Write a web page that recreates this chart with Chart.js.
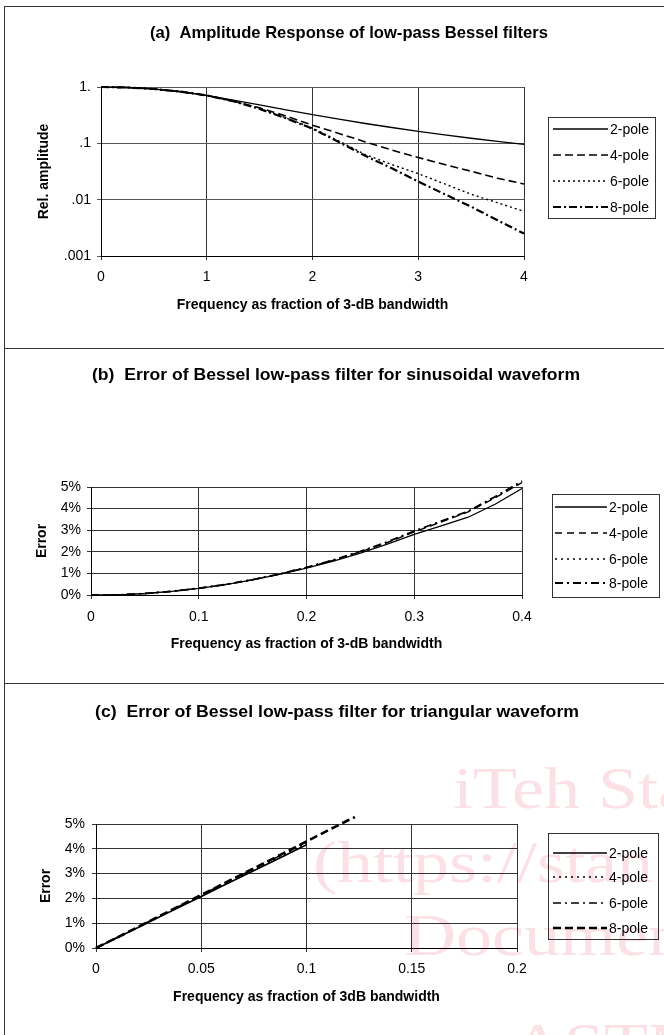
<!DOCTYPE html>
<html>
<head>
<meta charset="utf-8">
<script src="https://cdn.jsdelivr.net/npm/chart.js@4.4.1/dist/chart.umd.min.js"></script>
<style>
  body { margin: 0; background: #fff; }
  #page { position: relative; width: 664px; height: 1035px; overflow: hidden; background: #fff; }
  canvas { position: absolute; left: 0; }
  .rule { position: absolute; background: #333; }
</style>
</head>
<body>
<div id="page">
  <div class="rule" style="left:4px;top:6px;width:660px;height:1px"></div>
  <div class="rule" style="left:4px;top:6px;width:1px;height:1029px"></div>
  <div class="rule" style="left:4px;top:348px;width:660px;height:1px"></div>
  <div class="rule" style="left:4px;top:683px;width:660px;height:1px"></div>
  <canvas id="chartA" width="664" height="348" style="top:0"></canvas>
  <canvas id="chartB" width="664" height="335" style="top:348px"></canvas>
  <canvas id="chartC" width="664" height="352" style="top:683px"></canvas>
</div>
<script>
// (a) amplitude response
const freqA = [0, 0.25, 0.5, 0.75, 1, 1.25, 1.5, 1.75, 2, 2.25, 2.5, 2.75, 3, 3.25, 3.5, 3.75, 4];
const ampA2 = [1, 0.980, 0.921, 0.825, 0.707, 0.587, 0.481, 0.393, 0.323, 0.268, 0.225, 0.191, 0.163, 0.141, 0.123, 0.108, 0.096];
const ampA4 = [1, 0.980, 0.922, 0.829, 0.707, 0.566, 0.426, 0.305, 0.210, 0.150, 0.106, 0.076, 0.056, 0.042, 0.032, 0.024, 0.019];
const ampA6 = [1, 0.980, 0.921, 0.828, 0.707, 0.562, 0.413, 0.283, 0.186, 0.110, 0.063, 0.042, 0.029, 0.019, 0.0125, 0.0088, 0.0062];
const ampA8 = [1, 0.980, 0.921, 0.828, 0.707, 0.560, 0.408, 0.278, 0.182, 0.105, 0.060, 0.036, 0.021, 0.0125, 0.0075, 0.0043, 0.0025];
const yTicksA = [0.001, 0.01, 0.1, 1];
const yLabelsA = ['.001', '.01', '.1', '1.'];
const xLabelsA = ['0', '1', '2', '3', '4'];

// (b) sinusoidal error, %
const freqB = [0, 0.025, 0.05, 0.075, 0.1, 0.125, 0.15, 0.175, 0.2, 0.225, 0.25, 0.275, 0.3, 0.325, 0.35, 0.375, 0.4];
const errB2 = [0, 0, 0.07, 0.17, 0.31, 0.48, 0.70, 0.95, 1.24, 1.57, 1.94, 2.36, 2.81, 3.20, 3.60, 4.20, 4.93];
const errB4 = [0, 0, 0.07, 0.17, 0.31, 0.49, 0.71, 0.97, 1.27, 1.61, 2.00, 2.43, 2.92, 3.38, 3.85, 4.50, 5.20];
const errB6 = [0, 0, 0.07, 0.17, 0.31, 0.49, 0.71, 0.97, 1.27, 1.62, 2.01, 2.44, 2.93, 3.40, 3.87, 4.52, 5.22];
const errB8 = [0, 0, 0.07, 0.17, 0.31, 0.49, 0.71, 0.97, 1.28, 1.62, 2.02, 2.46, 2.96, 3.42, 3.88, 4.55, 5.28];
const xLabelsB = ['0', '0.1', '0.2', '0.3', '0.4'];

// (c) triangular error, %
const freqC = [0, 0.01, 0.02, 0.03, 0.04, 0.05, 0.06, 0.07, 0.08, 0.09, 0.1];
const freqC8 = [0, 0.01, 0.02, 0.03, 0.04, 0.05, 0.06, 0.07, 0.08, 0.09, 0.1, 0.11, 0.12, 0.123];
const errC2 = [0, 0.41, 0.83, 1.25, 1.66, 2.08, 2.50, 2.91, 3.33, 3.74, 4.16];
const errC4 = [0, 0.42, 0.84, 1.27, 1.69, 2.11, 2.54, 2.96, 3.38, 3.80, 4.22];
const errC6 = [0, 0.42, 0.85, 1.28, 1.70, 2.13, 2.56, 2.98, 3.41, 3.83, 4.26];
const errC8 = [0, 0.42, 0.85, 1.28, 1.71, 2.14, 2.57, 3.00, 3.43, 3.86, 4.30, 4.73, 5.16, 5.28];
const xLabelsC = ['0', '0.05', '0.1', '0.15', '0.2'];

const yLabelsPct = ['0%', '1%', '2%', '3%', '4%', '5%'];
const seriesNames = ['2-pole', '4-pole', '6-pole', '8-pole'];

const FONT = "'Liberation Sans', Arial, sans-serif";

function pts(xs, ys) {
  return ys.map((y, i) => ({ x: xs[i], y: y }));
}

function line(label, xs, ys, width, dash) {
  return {
    label: label,
    data: pts(xs, ys),
    borderColor: '#000',
    borderWidth: width,
    borderDash: dash,
    pointRadius: 0,
    tension: 0,
    fill: false,
    clip: false
  };
}

// titles, boxed legend and watermark drawn on the canvas
const panelText = {
  id: 'panelText',
  beforeDraw(chart, args, opts) {
    if (!opts.watermark) return;
    const ctx = chart.ctx;
    ctx.save();
    ctx.fillStyle = '#fbe1e5';
    ctx.font = "60px 'Liberation Serif', serif";
    ctx.textBaseline = 'alphabetic';
    opts.watermark.forEach(w => {
      ctx.save();
      ctx.translate(w.x, w.y);
      ctx.scale(1.2, 1);
      ctx.fillText(w.text, 0, 0);
      ctx.restore();
    });
    ctx.restore();
  },
  afterDraw(chart, args, opts) {
    const ctx = chart.ctx;
    const t = opts.title;
    ctx.save();
    ctx.fillStyle = '#000';
    ctx.font = 'bold 17px ' + FONT;
    const w = ctx.measureText(t.text).width;
    ctx.translate(t.x, t.y);
    ctx.scale(t.width / w, 1);
    ctx.textAlign = 'center';
    ctx.textBaseline = 'middle';
    ctx.fillText(t.text, 0, 0);
    ctx.restore();

    const L = opts.legend;
    ctx.save();
    ctx.strokeStyle = '#333';
    ctx.lineWidth = 1;
    ctx.strokeRect(L.x + 0.5, L.y + 0.5, L.w, L.h);
    ctx.font = '14px ' + FONT;
    ctx.textBaseline = 'middle';
    ctx.fillStyle = '#000';
    chart.data.datasets.forEach((ds, i) => {
      const y = L.rows[i];
      ctx.beginPath();
      ctx.setLineDash(ds.borderDash || []);
      ctx.lineWidth = ds.borderWidth;
      ctx.strokeStyle = '#000';
      ctx.moveTo(L.lineX1, y);
      ctx.lineTo(L.lineX2, y);
      ctx.stroke();
      ctx.setLineDash([]);
      ctx.fillText(ds.label, L.textX, y + 1);
    });
    ctx.restore();
  }
};

function axisFont(size, bold) {
  return { family: FONT, size: size, weight: bold ? 'bold' : 'normal' };
}

// chart A
new Chart(document.getElementById('chartA'), {
  type: 'line',
  data: {
    datasets: [
      line(seriesNames[0], freqA, ampA2, 1.3, []),
      line(seriesNames[1], freqA, ampA4, 1.6, [8, 4]),
      line(seriesNames[2], freqA, ampA6, 1.4, [2, 3]),
      line(seriesNames[3], freqA, ampA8, 2.2, [8, 3, 2, 3])
    ]
  },
  options: {
    responsive: false,
    animation: false,
    events: [],
    layout: { padding: { top: 87, right: 140, left: 0, bottom: 0 } },
    plugins: {
      legend: { display: false },
      tooltip: { enabled: false },
      panelText: {
        title: { text: '(a)  Amplitude Response of low-pass Bessel filters', x: 349, y: 33, width: 398 },
        legend: { x: 548, y: 117, w: 107, h: 101, rows: [129, 155, 181, 207], lineX1: 553, lineX2: 608, textX: 610 }
      }
    },
    scales: {
      x: {
        type: 'linear', min: 0, max: 4,
        afterFit: s => { s.height = 92; },
        ticks: { stepSize: 1, padding: 9, color: '#000', font: axisFont(14), maxRotation: 0,
          callback: (v, i) => xLabelsA[i] },
        grid: { color: '#333', tickLength: 4 },
        border: { color: '#000' },
        title: { display: true, text: 'Frequency as fraction of 3-dB bandwidth', color: '#000',
          font: axisFont(14, true), padding: { top: 0, bottom: 34.6 } }
      },
      y: {
        type: 'logarithmic', min: 0.001, max: 1,
        afterFit: s => { s.width = 101; },
        afterBuildTicks: s => { s.ticks = yTicksA.map(v => ({ value: v })); },
        ticks: { padding: 6, color: '#000', font: axisFont(14),
          callback: v => yLabelsA[yTicksA.indexOf(v)] },
        grid: { color: '#555', tickLength: 4 },
        border: { color: '#000' },
        title: { display: true, text: 'Rel. amplitude', color: '#000',
          font: axisFont(14, true), padding: { top: 36, bottom: 0 } }
      }
    }
  },
  plugins: [panelText]
});

// chart B
new Chart(document.getElementById('chartB'), {
  type: 'line',
  data: {
    datasets: [
      line(seriesNames[0], freqB, errB2, 1.3, []),
      line(seriesNames[1], freqB, errB4, 1.4, [7, 5]),
      line(seriesNames[2], freqB, errB6, 1.5, [2, 4]),
      line(seriesNames[3], freqB, errB8, 1.8, [8, 4, 2, 4])
    ]
  },
  options: {
    responsive: false,
    animation: false,
    events: [],
    layout: { padding: { top: 139, right: 142, left: 0, bottom: 0 } },
    plugins: {
      legend: { display: false },
      tooltip: { enabled: false },
      panelText: {
        title: { text: '(b)  Error of Bessel low-pass filter for sinusoidal waveform', x: 336, y: 27, width: 488 },
        legend: { x: 552, y: 146, w: 107, h: 103, rows: [159, 185, 211, 235], lineX1: 555, lineX2: 607, textX: 609 }
      }
    },
    scales: {
      x: {
        type: 'linear', min: 0, max: 0.4,
        afterFit: s => { s.height = 88; },
        ticks: { stepSize: 0.1, padding: 10, color: '#000', font: axisFont(14), maxRotation: 0,
          callback: (v, i) => xLabelsB[i] },
        grid: { color: '#333', tickLength: 4 },
        border: { color: '#000' },
        title: { display: true, text: 'Frequency as fraction of 3-dB bandwidth', color: '#000',
          font: axisFont(14, true), padding: { top: 0, bottom: 30.6 } }
      },
      y: {
        type: 'linear', min: 0, max: 5,
        afterFit: s => { s.width = 91; },
        ticks: { stepSize: 1, padding: 6, color: '#000', font: axisFont(14),
          callback: (v, i) => yLabelsPct[i] },
        grid: { color: '#333', tickLength: 4 },
        border: { color: '#000' },
        title: { display: true, text: 'Error', color: '#000',
          font: axisFont(14, true), padding: { top: 33.6, bottom: 0 } }
      }
    }
  },
  plugins: [panelText]
});

// chart C
new Chart(document.getElementById('chartC'), {
  type: 'line',
  data: {
    datasets: [
      line(seriesNames[0], freqC, errC2, 1.6, []),
      line(seriesNames[1], freqC, errC4, 1.4, [2, 4]),
      line(seriesNames[2], freqC, errC6, 1.6, [8, 4, 2, 4]),
      line(seriesNames[3], freqC8, errC8, 2.6, [8, 4])
    ]
  },
  options: {
    responsive: false,
    animation: false,
    events: [],
    layout: { padding: { top: 141, right: 147, left: 0, bottom: 0 } },
    plugins: {
      legend: { display: false },
      tooltip: { enabled: false },
      panelText: {
        title: { text: '(c)  Error of Bessel low-pass filter for triangular waveform', x: 337, y: 29, width: 484 },
        legend: { x: 548, y: 150, w: 110, h: 106, rows: [170, 194, 220, 245], lineX1: 553, lineX2: 607, textX: 609 },
        watermark: [
          { text: 'iTeh Sta', x: 453, y: 125 },
          { text: '(https://stan', x: 313, y: 199 },
          { text: 'Documen', x: 404, y: 272 },
          { text: 'ASTM F194', x: 512, y: 381 }
        ]
      }
    },
    scales: {
      x: {
        type: 'linear', min: 0, max: 0.2,
        afterFit: s => { s.height = 87; },
        ticks: { stepSize: 0.05, padding: 9, color: '#000', font: axisFont(14), maxRotation: 0,
          callback: (v, i) => xLabelsC[i] },
        grid: { color: '#333', tickLength: 4 },
        border: { color: '#000' },
        title: { display: true, text: 'Frequency as fraction of 3dB bandwidth', color: '#000',
          font: axisFont(14, true), padding: { top: 0, bottom: 29.6 } }
      },
      y: {
        type: 'linear', min: 0, max: 5,
        afterFit: s => { s.width = 96; },
        ticks: { stepSize: 1, padding: 7, color: '#000', font: axisFont(14),
          callback: (v, i) => yLabelsPct[i] },
        grid: { color: '#333', tickLength: 4 },
        border: { color: '#000' },
        title: { display: true, text: 'Error', color: '#000',
          font: axisFont(14, true), padding: { top: 37.6, bottom: 0 } }
      }
    }
  },
  plugins: [panelText]
});
</script>
</body>
</html>
